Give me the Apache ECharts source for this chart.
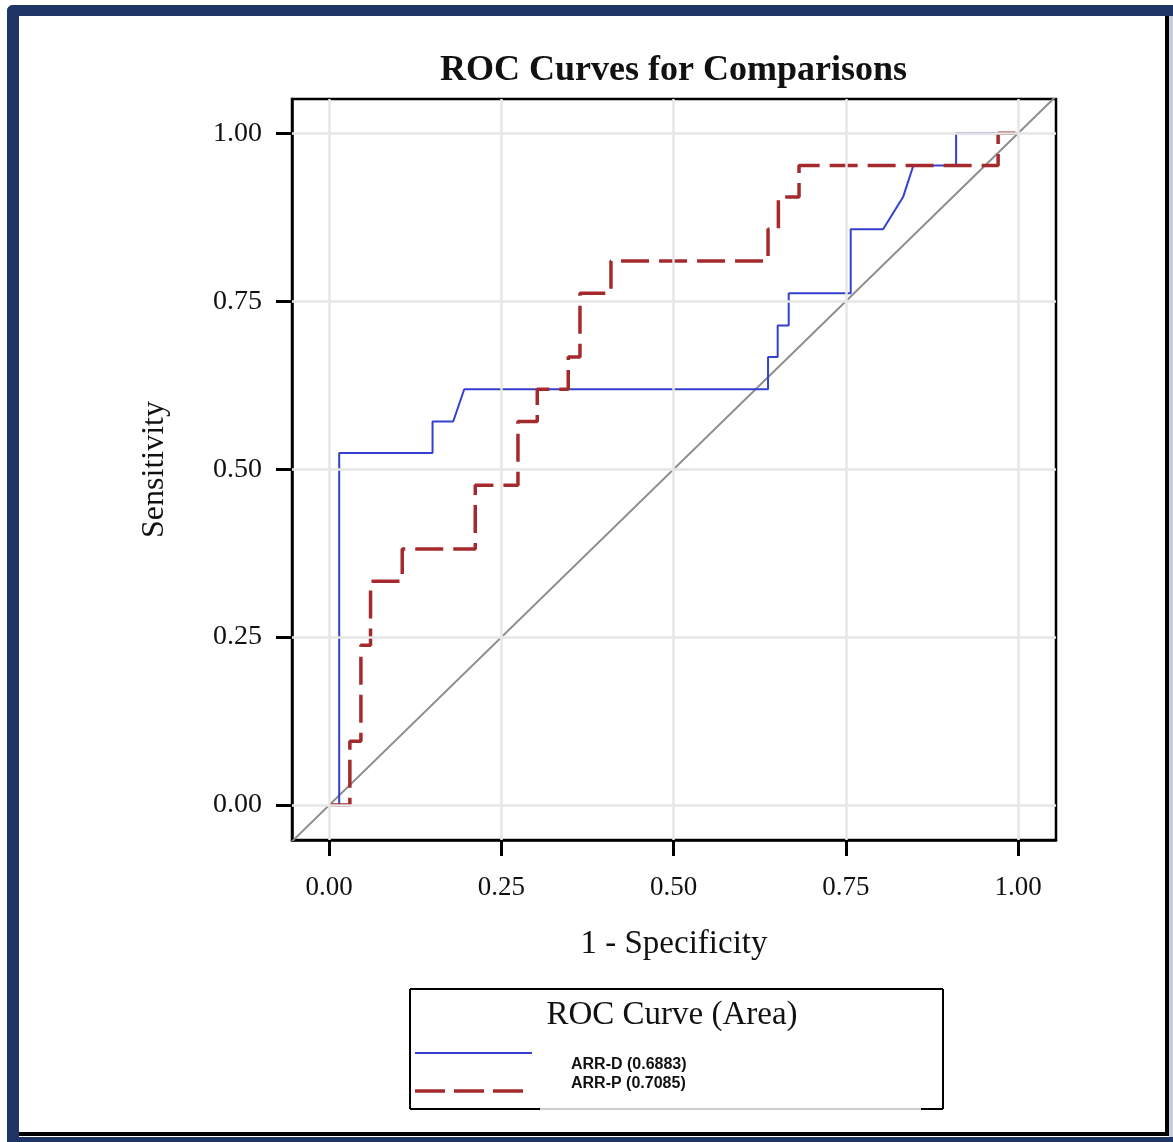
<!DOCTYPE html>
<html>
<head>
<meta charset="utf-8">
<title>ROC Curves for Comparisons</title>
<script src="https://cdn.jsdelivr.net/npm/echarts@6/dist/echarts.min.js"></script>
<style>
  html, body { margin: 0; padding: 0; background: #fff; }
  #chart { width: 1173px; height: 1142px; }
</style>
</head>
<body>
<div id="chart"></div>
<script>
// axis ticks
var xTicks = [0, 0.25, 0.5, 0.75, 1];
var yTicks = [0, 0.25, 0.5, 0.75, 1];
var X_MIN = -0.054, X_MAX = 1.055;
var Y_MIN = -0.052, Y_MAX = 1.051;

// ARR-D curve (1 - specificity, sensitivity)
var dFpr = [0, 0.0145, 0.0145, 0.150, 0.150, 0.180, 0.196, 0.637, 0.637, 0.651, 0.651, 0.667, 0.667, 0.757, 0.757, 0.804, 0.833, 0.848, 0.910, 0.910, 1];
var dTpr = [0, 0, 0.524, 0.524, 0.571, 0.571, 0.619, 0.619, 0.667, 0.667, 0.714, 0.714, 0.762, 0.762, 0.857, 0.857, 0.905, 0.952, 0.952, 1, 1];

// ARR-P curve
var pFpr = [0, 0.030, 0.030, 0.046, 0.046, 0.060, 0.060, 0.106, 0.106, 0.212, 0.212, 0.274, 0.274, 0.302, 0.302, 0.347, 0.347, 0.364, 0.364, 0.409, 0.409, 0.637, 0.637, 0.652, 0.652, 0.682, 0.682, 0.971, 0.971, 1];
var pTpr = [0, 0, 0.095, 0.095, 0.238, 0.238, 0.333, 0.333, 0.381, 0.381, 0.476, 0.476, 0.571, 0.571, 0.619, 0.619, 0.667, 0.667, 0.762, 0.762, 0.810, 0.810, 0.857, 0.857, 0.905, 0.905, 0.952, 0.952, 1, 1];

var legendNames = ["ARR-D (0.6883)", "ARR-P (0.7085)"];

function zip(a, b) {
  return a.map(function (v, i) { return [v, b[i]]; });
}

var serif = "'Liberation Serif', 'Times New Roman', serif";
var navy = "#1e3566";
var blue = "#3340d0";
var red = "#a52a2e";

var chart = echarts.init(document.getElementById("chart"));

var option = {
  animation: false,
  title: {
    text: "ROC Curves for Comparisons",
    left: 435,
    top: 48,
    textStyle: { fontFamily: serif, fontWeight: "bold", fontSize: 36, color: "#111" }
  },
  grid: {
    left: 292, top: 99, width: 764, height: 741,
    show: true, borderColor: "#000", borderWidth: 2.5, backgroundColor: "transparent"
  },
  xAxis: {
    type: "value",
    min: X_MIN, max: X_MAX,
    name: "1 - Specificity",
    nameLocation: "middle",
    nameGap: 88,
    nameTextStyle: { fontFamily: serif, fontSize: 33, color: "#111" },
    axisLine: { onZero: false, lineStyle: { color: "#000", width: 2.5 } },
    axisTick: { customValues: xTicks, length: 16, lineStyle: { color: "#000", width: 3 } },
    axisLabel: {
      customValues: xTicks, margin: 34,
      fontFamily: serif, fontSize: 27, color: "#111",
      formatter: function (v) { return v.toFixed(2); }
    },
    splitLine: { show: false }
  },
  yAxis: {
    type: "value",
    min: Y_MIN, max: Y_MAX,
    name: "Sensitivity",
    nameLocation: "middle",
    nameGap: 121,
    nameRotate: 90,
    nameTextStyle: { fontFamily: serif, fontSize: 32, color: "#111" },
    axisLine: { onZero: false, lineStyle: { color: "#000", width: 2.5 } },
    axisTick: { customValues: yTicks, length: 16, lineStyle: { color: "#000", width: 3 } },
    axisLabel: {
      customValues: yTicks, margin: 30,
      fontFamily: serif, fontSize: 28, color: "#111",
      formatter: function (v) { return v.toFixed(2); }
    },
    splitLine: { show: false }
  },
  series: [
    {
      name: "gridlines",
      type: "line",
      data: [],
      z: 1,
      silent: true,
      markLine: {
        silent: true,
        symbol: ["none", "none"],
        label: { show: false },
        lineStyle: { color: "#e6e6e6", width: 2.5, type: "solid" },
        emphasis: { disabled: true },
        data: xTicks.map(function (v) { return { xAxis: v }; })
          .concat(yTicks.map(function (v) { return { yAxis: v }; }))
      }
    },
    {
      name: "diagonal",
      type: "line",
      data: [[X_MIN, X_MIN], [X_MAX, X_MAX]],
      showSymbol: false,
      silent: true,
      z: 2,
      lineStyle: { color: "#8c8c8c", width: 2 }
    },
    {
      name: legendNames[0],
      type: "line",
      data: zip(dFpr, dTpr),
      showSymbol: false,
      z: 3,
      lineStyle: { color: blue, width: 2 }
    },
    {
      name: legendNames[1],
      type: "line",
      data: zip(pFpr, pTpr),
      showSymbol: false,
      z: 4,
      lineStyle: { color: red, width: 3.5, type: [28, 10] }
    }
  ],
  graphic: [
    // outer frame
    { type: "rect", shape: { x: 7, y: 5, width: 1166, height: 11, r: [6, 0, 0, 0] }, style: { fill: navy }, silent: true },
    { type: "rect", shape: { x: 7, y: 5, width: 12, height: 1137, r: [6, 0, 0, 0] }, style: { fill: navy }, silent: true },
    { type: "rect", shape: { x: 7, y: 1137, width: 1166, height: 5 }, style: { fill: navy }, silent: true },
    { type: "rect", shape: { x: 1169, y: 16, width: 4, height: 1121 }, style: { fill: "#c9cdd8" }, silent: true },
    { type: "rect", shape: { x: 1165, y: 16, width: 4, height: 1120 }, style: { fill: "#000" }, silent: true },
    { type: "rect", shape: { x: 19, y: 1132, width: 1150, height: 4 }, style: { fill: "#000" }, silent: true },
    // legend box
    { type: "line", shape: { x1: 410, y1: 989, x2: 943, y2: 989 }, style: { stroke: "#000", lineWidth: 2 }, silent: true },
    { type: "line", shape: { x1: 410, y1: 989, x2: 410, y2: 1109 }, style: { stroke: "#000", lineWidth: 2 }, silent: true },
    { type: "line", shape: { x1: 943, y1: 989, x2: 943, y2: 1109 }, style: { stroke: "#000", lineWidth: 2 }, silent: true },
    { type: "line", shape: { x1: 410, y1: 1109, x2: 540, y2: 1109 }, style: { stroke: "#000", lineWidth: 2 }, silent: true },
    { type: "line", shape: { x1: 540, y1: 1109, x2: 921, y2: 1109 }, style: { stroke: "#9a9a9a", lineWidth: 1 }, silent: true },
    { type: "line", shape: { x1: 921, y1: 1109, x2: 943, y2: 1109 }, style: { stroke: "#000", lineWidth: 2 }, silent: true },
    {
      type: "text", x: 672, y: 1015, silent: true,
      style: { text: "ROC Curve (Area)", fill: "#111", font: "33px " + serif, textAlign: "center", textVerticalAlign: "middle" }
    },
    { type: "line", shape: { x1: 415, y1: 1053, x2: 532, y2: 1053 }, style: { stroke: blue, lineWidth: 2 }, silent: true },
    { type: "line", shape: { x1: 415, y1: 1091, x2: 523, y2: 1091 }, style: { stroke: red, lineWidth: 3.5, lineDash: [30, 9] }, silent: true },
    {
      type: "text", x: 571, y: 1065, silent: true,
      style: { text: legendNames[0], fill: "#111", font: "bold 16px 'Liberation Sans', Arial, sans-serif", textVerticalAlign: "middle" }
    },
    {
      type: "text", x: 571, y: 1084, silent: true,
      style: { text: legendNames[1], fill: "#111", font: "bold 16px 'Liberation Sans', Arial, sans-serif", textVerticalAlign: "middle" }
    }
  ]
};

chart.setOption(option);
window.addEventListener("resize", function () {
  chart.resize();
});
</script>
</body>
</html>
